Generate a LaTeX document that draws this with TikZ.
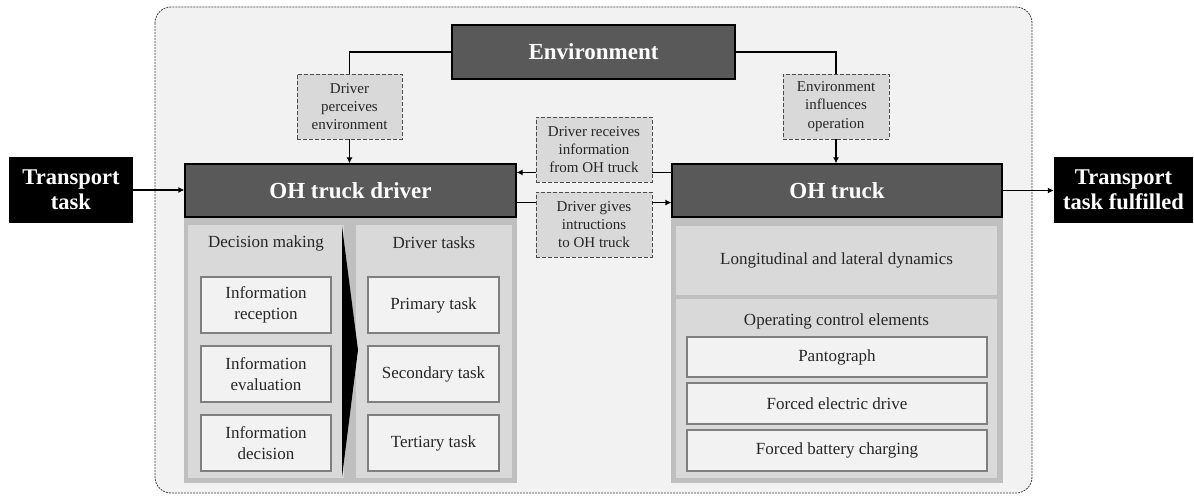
\documentclass[tikz,border=0pt]{standalone}
\usepackage{fontspec}
\setmainfont{Liberation Serif}
\usetikzlibrary{arrows.meta}
\definecolor{hdr}{HTML}{595959}
\definecolor{bodyc}{HTML}{BFBFBF}
\definecolor{panel}{HTML}{D9D9D9}
\definecolor{light}{HTML}{F2F2F2}
\definecolor{bord}{HTML}{7F7F7F}
\definecolor{txt}{HTML}{262626}
\tikzset{
  hdrbox/.style={draw=black, line width=1.2pt, fill=hdr, text=white, font=\fontsize{23}{26}\selectfont\bfseries, inner sep=0pt},
  blackbox/.style={fill=black, text=white, font=\fontsize{22.5}{25}\selectfont\bfseries, align=center, inner sep=0pt},
  lblbox/.style={draw=black!70, dash pattern=on 4pt off 2pt, line width=0.9pt, fill=panel, text=txt, font=\fontsize{15}{18.3}\selectfont, align=center, inner sep=0pt},
  bodybox/.style={draw=bord, line width=0.7pt, double=bodyc, double distance=1.2pt, fill=bodyc, inner sep=0pt},
  panelbox/.style={draw=bord, line width=0.7pt, double=panel, double distance=1.2pt, fill=panel, inner sep=0pt},
  whitebox/.style={draw=bord, line width=1.4pt, fill=light, text=txt, font=\fontsize{17}{21.5}\selectfont, align=center, inner sep=0pt},
  ptitle/.style={text=txt, font=\fontsize{17}{21.5}\selectfont, inner sep=0pt},
  conn/.style={line width=1.2pt, draw=black},
  arr/.style={conn, -{Latex[length=6pt,width=6pt]}},
}
\begin{document}
\begin{tikzpicture}[x=1pt,y=-1pt]
\useasboundingbox (0,0) rectangle (1194,497);
% outer frame
\draw[draw=black!75, line width=0.8pt, dash pattern=on 2pt off 1pt, fill=light, rounded corners=16pt] (155,7) rectangle (1032,493);
% environment
\node[hdrbox, minimum width=283, minimum height=54] (env) at (593.5,52) {Environment};
\node[lblbox, minimum width=105, minimum height=65] (perc) at (349.5,106.5) {Driver\\perceives\\environment};
\node[lblbox, minimum width=106, minimum height=65] (infl) at (836,106.5) {Environment\\influences\\operation};
% driver
\node[bodybox, minimum width=331, minimum height=265] (dbody) at (350.5,349.5) {};
\node[hdrbox, minimum width=331, minimum height=53] (dhead) at (350.5,190.5) {OH truck driver};
\node[panelbox, minimum width=154, minimum height=251] (dm) at (266,351.5) {};
\node[panelbox, minimum width=154, minimum height=251] (dt) at (434,351.5) {};
\node[ptitle] (dmt) at (266,243) {Decision making};
\node[ptitle] (dtt) at (434,243) {Driver tasks};
\fill[black] (342,226) -- (358,350) -- (342,477) -- cycle;
\node[whitebox, minimum width=130, minimum height=56] (ir) at (266,305) {Information\\reception};
\node[whitebox, minimum width=130, minimum height=56] (ie) at (266,374) {Information\\evaluation};
\node[whitebox, minimum width=130, minimum height=56] (id) at (266,443) {Information\\decision};
\node[whitebox, minimum width=131, minimum height=56] (pt) at (433.5,305) {Primary task};
\node[whitebox, minimum width=131, minimum height=56] (st) at (433.5,374) {Secondary task};
\node[whitebox, minimum width=131, minimum height=56] (tt) at (433.5,443) {Tertiary task};
% middle labels
\node[lblbox, minimum width=116, minimum height=65] (recv) at (594,149.5) {Driver receives\\information\\from OH truck};
\node[lblbox, minimum width=116, minimum height=65] (gives) at (594,224.5) {Driver gives\\intructions\\to OH truck};
% truck
\node[bodybox, minimum width=330, minimum height=265] (tbody) at (837,349.5) {};
\node[hdrbox, minimum width=330, minimum height=53] (thead) at (837,190.5) {OH truck};
\node[panelbox, minimum width=319, minimum height=67, text=txt, font=\fontsize{17}{21.5}\selectfont] (lon) at (836.5,260.5) {Longitudinal and lateral dynamics};
\node[panelbox, minimum width=319, minimum height=177] (oce) at (836.5,388.5) {};
\node[ptitle] (ocet) at (836.5,321) {Operating control elements};
\node[whitebox, minimum width=300, minimum height=40] (pan) at (837,357) {Pantograph};
\node[whitebox, minimum width=300, minimum height=41] (fed) at (837,403.5) {Forced electric drive};
\node[whitebox, minimum width=300, minimum height=41] (fbc) at (837,450.5) {Forced battery charging};
% transport
\node[blackbox, minimum width=124, minimum height=66] (tin) at (71,190) {Transport\\task};
\node[blackbox, minimum width=139, minimum height=66] (tout) at (1123.5,190) {Transport\\task fulfilled};
% connectors
\draw[conn] (env.west) -| (perc.north);
\draw[arr] (perc.south) -- (perc.south |- dhead.north);
\draw[conn] (env.east) -| (infl.north);
\draw[arr] (infl.south) -- (infl.south |- thead.north);
\draw[arr] (tin.east) -- (tin.east -| dhead.west);
\draw[arr] (thead.east) -- (thead.east -| tout.west);
\draw[conn] ([yshift=10pt]recv.south east) -- ([yshift=10pt]recv.south east -| thead.west);
\draw[arr] ([yshift=10pt]recv.south west) -- ([yshift=10pt]recv.south west -| dhead.east);
\draw[conn] ([yshift=-11pt]gives.north west -| dhead.east) -- ([yshift=-11pt]gives.north west);
\draw[arr] ([yshift=-11pt]gives.north east) -- ([yshift=-11pt]gives.north east -| thead.west);
\end{tikzpicture}
\end{document}
